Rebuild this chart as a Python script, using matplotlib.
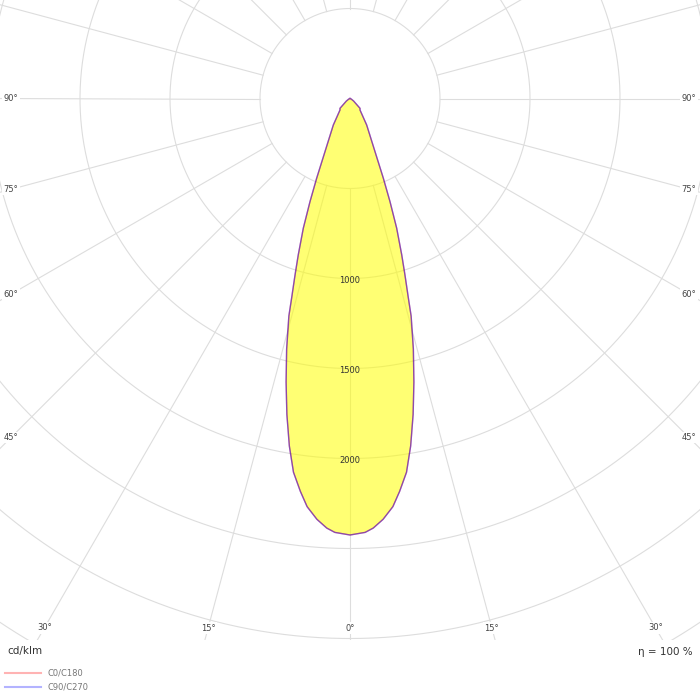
import numpy as np
import matplotlib
matplotlib.use("Agg")
import matplotlib.pyplot as plt
from matplotlib.patches import Rectangle
from matplotlib.lines import Line2D

# luminous intensity, cd/klm (one half, curve is symmetric)
gamma = [0, 2, 3.1, 4.5, 6, 7.2, 8.6, 9.9, 11.3, 12.7, 14.2, 15.7, 16.3, 17.3,
         18.3, 19.8, 21.2, 22.7, 25.2, 32.2, 41, 45.6, 48, 55, 65, 75, 90]
c0_c180 = [2425, 2412, 2390, 2345, 2280, 2200, 2100, 1960, 1790, 1615, 1435, 1255, 1156, 1027,
           916, 766, 615, 480, 327, 174, 85, 78, 50, 25, 8, 3, 0]
c90_c270 = [2425, 2412, 2390, 2345, 2280, 2200, 2100, 1960, 1790, 1615, 1435, 1255, 1156, 1027,
            916, 766, 615, 480, 327, 174, 85, 78, 50, 25, 8, 3, 0]

grid_circles = [500, 1000, 1500, 2000, 2500, 3000, 3500]
circle_labels = [1000, 1500, 2000]
spoke_angles = list(range(0, 360, 15))
side_labels = [90, 75, 60, 45]
bottom_labels = [30, 15, 0]
legend_names = ["C0/C180", "C90/C270"]
unit_text = "cd/klm"
eta_text = "η = 100 %"

# layout (pixels on a 700x700 canvas)
W = H = 700
cx, cy = 350, 98.5        # centre of the diagram, from top
rmax = 4000
rad_px = 720
px = rad_px / rmax        # px per cd/klm
bottom_strip = 60         # area under the diagram
grid_col = "#dddddd"

fig = plt.figure(figsize=(7, 7), dpi=100)
ax = fig.add_axes([(cx - rad_px) / W, (H - cy - rad_px) / H, 2 * rad_px / W, 2 * rad_px / H],
                  projection="polar")
ax.set_theta_zero_location("S")
ax.set_ylim(0, rmax)
ax.set_xticks([])
ax.set_yticks([])
ax.grid(False)
ax.spines["polar"].set_visible(False)

# grid
full = np.linspace(0, 2 * np.pi, 1441)
for r in grid_circles:
    ax.plot(full, np.full_like(full, r), color=grid_col, lw=0.8, zorder=1)
for a in spoke_angles:
    ax.plot(np.radians([a, a]), [grid_circles[0], rmax], color=grid_col, lw=0.8, zorder=1)

# curve (mirror each plane)
g = np.radians(gamma)
theta = np.concatenate([-g[::-1], g[1:]])
r0 = np.concatenate([np.array(c0_c180)[::-1], np.array(c0_c180)[1:]])
r90 = np.concatenate([np.array(c90_c270)[::-1], np.array(c90_c270)[1:]])
ax.fill(theta, r0, color="#ffff00", alpha=0.55, lw=0, zorder=2)
ax.plot(theta, r0, color="red", alpha=0.45, lw=1, zorder=3)
ax.plot(theta, r90, color="blue", alpha=0.45, lw=1, zorder=3)

for r in circle_labels:
    ax.text(0, r + 10, str(r), ha="center", va="center", fontsize=6, color="#333333", zorder=4)

# angle labels where the spokes leave the frame
side_d = (cx - 11) / px
bot_d = (628 - cy) / px
box = dict(facecolor="white", edgecolor="none", pad=1)
for a in side_labels:
    rr = side_d / np.sin(np.radians(a))
    for s in (-1, 1):
        ax.text(np.radians(s * a), rr, f"{a}°", ha="center", va="center",
                fontsize=6, color="#444444", bbox=box, zorder=4)
for a in bottom_labels:
    rr = bot_d / np.cos(np.radians(a))
    for s in ((-1, 1) if a else (1,)):
        ax.text(np.radians(s * a), rr, f"{a}°", ha="center", va="center",
                fontsize=6, color="#444444", bbox=box, zorder=4)

# blank strip below the diagram
fig.add_artist(Rectangle((0, 0), 1, bottom_strip / H, transform=fig.transFigure,
                         facecolor="white", edgecolor="none", zorder=2))

fig.text(7 / W, 49 / H, unit_text, ha="left", va="center", fontsize=7.5, color="#333333")
fig.text(693 / W, 48 / H, eta_text, ha="right", va="center", fontsize=7.5, color="#333333")

handles = [Line2D([], [], color="#ffb3b3", lw=1.5), Line2D([], [], color="#b3b3ff", lw=1.5)]
fig.legend(handles, legend_names, loc="upper left", bbox_to_anchor=(5 / W, 31 / H),
           frameon=False, fontsize=6, labelcolor="#777777", handlelength=4.3,
           handletextpad=0.8, labelspacing=0.55, borderpad=0, borderaxespad=0)

fig.savefig("out.png", dpi=100, facecolor="white")
